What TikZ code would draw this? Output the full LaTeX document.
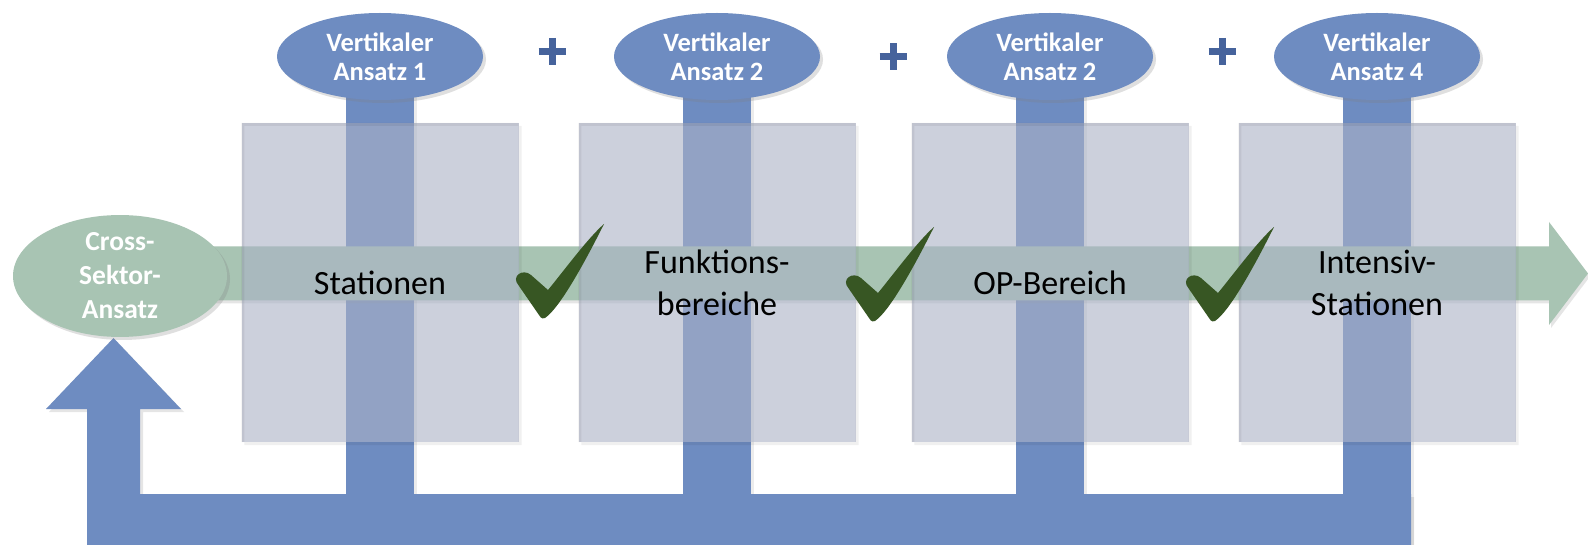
\documentclass[tikz,border=0pt]{standalone}
\usepackage{fontspec}
\setmainfont{Carlito}
\usetikzlibrary{shapes.geometric,shadows,backgrounds,calc}
\definecolor{vblue}{RGB}{110,140,193}
\definecolor{gtone}{RGB}{168,196,179}
\definecolor{boxc}{RGB}{170,178,198}
\definecolor{checkc}{RGB}{55,86,35}
\definecolor{plusc}{RGB}{70,99,156}
\tikzset{
  vell/.style={ellipse, fill=vblue, minimum width=206pt, minimum height=87pt, inner sep=0pt,
    align=center, text=white, font=\bfseries\fontsize{26.5}{29}\selectfont,
    drop shadow={shadow xshift=3pt, shadow yshift=-3pt, opacity=0.25}},
  cell/.style={ellipse, fill=gtone, minimum width=214pt, minimum height=108pt, inner sep=0pt,
    align=center, text=white, font=\bfseries\fontsize{27.5}{34}\selectfont,
    drop shadow={shadow xshift=3pt, shadow yshift=-3pt, opacity=0.25}},
  sbox/.style={rectangle, fill=boxc, fill opacity=0.6, text opacity=1, minimum width=277pt,
    minimum height=319pt, inner sep=0pt, align=center, text=black,
    font=\fontsize{34}{42}\selectfont},
  vbar/.style={fill=vblue},
  gband/.style={fill=gtone, drop shadow={shadow xshift=2pt, shadow yshift=-3pt, opacity=0.2}},
  plusmk/.style={draw=plusc, line width=7pt},
  boxshadow/.style={fill=black, opacity=0.06, even odd rule},
  checkmk/.pic={
    \fill[checkc] (-3,0) .. controls (12,-10) and (38,-58) .. (56,-94)
      .. controls (40,-80) and (18,-50) .. (0,-28)
      -- (-17,-43) .. controls (-25,-50) and (-38,-42) .. (-29,-32)
      -- (-9,-3) .. controls (-7,1) and (-4,1) .. (-3,0) -- cycle;
  }
}
\begin{document}
\begin{tikzpicture}[x=1pt,y=-1pt]
\useasboundingbox (0,0) rectangle (1588,545);

% top ellipses
\node[vell] (v1) at (380,56.5) {Vertikaler\\Ansatz 1};
\node[vell] (v2) at (717,56.5) {Vertikaler\\Ansatz 2};
\node[vell] (v3) at (1050,56.5) {Vertikaler\\Ansatz 2};
\node[vell] (v4) at (1377,56.5) {Vertikaler\\Ansatz 4};

% cross sector ellipse
\node[cell] (cs) at (120,276) {Cross-\\Sektor-\\Ansatz};

% helper coordinates
\coordinate (base) at (0,545);
\coordinate (up) at (113.5,338);
\coordinate (tip) at (1588,273.5);
\coordinate (bandl) at (120,273.5);

\begin{scope}[on background layer]
  \fill[white] (0,0) rectangle (1588,545);
  % vertical bars
  \foreach \v in {v1,v2,v3,v4}{
    \fill[vbar, drop shadow={shadow xshift=3pt, shadow yshift=0pt, opacity=0.15}]
      ($(\v.center)+(-34,0)$) rectangle ($(\v.center |- base)+(34,0)$);
  }
  % bottom return arrow
  \fill[vbar, drop shadow={shadow xshift=3pt, shadow yshift=-3pt, opacity=0.2}]
    ($(up |- base)+(-26.5,0)$) -- ($(up)+(-26.5,71)$) -- ($(up)+(-67.5,71)$) -- (up)
    -- ($(up)+(67.5,71)$) -- ($(up)+(26.5,71)$) -- ($(up |- 0,494)+(26.5,0)$)
    -- ($(v4.center |- 0,494)+(34,0)$) -- ($(v4.center |- base)+(34,0)$) -- cycle;
  % green band arrow
  \fill[gband] ($(bandl)+(0,-27)$) -- ($(tip)+(-39,-27)$) -- ($(tip)+(-39,-51.5)$) -- (tip)
    -- ($(tip)+(-39,51.5)$) -- ($(tip)+(-39,27)$) -- ($(bandl)+(0,27)$) -- cycle;
  % boxes
  \node[sbox] (b1) at (v1.center |- 0,282.5) {Stationen};
  \node[sbox] (b2) at (v2.center |- 0,282.5) {Funktions-\\bereiche};
  \node[sbox] (b3) at (v3.center |- 0,282.5) {OP-Bereich};
  \node[sbox] (b4) at (v4.center |- 0,282.5) {Intensiv-\\Stationen};
  \foreach \b in {b1,b2,b3,b4}{
    \fill[boxshadow] ($(\b.north west)+(3,3)$) rectangle ($(\b.south east)+(3,3)$)
      (\b.north west) rectangle (\b.south east);
  }
\end{scope}

% plus signs
\coordinate (p1) at (552,51.5);
\coordinate (p2) at (893,57);
\coordinate (p3) at (1222,51.5);
\foreach \p in {p1,p2,p3}{
  \draw[plusmk] ($(\p)+(-13.5,0)$) -- ($(\p)+(13.5,0)$) ($(\p)+(0,-13.5)$) -- ($(\p)+(0,13.5)$);
}

% check marks
\pic at (548,318) {checkmk};
\pic at (878,321) {checkmk};
\pic at (1218,321) {checkmk};
\end{tikzpicture}
\end{document}
